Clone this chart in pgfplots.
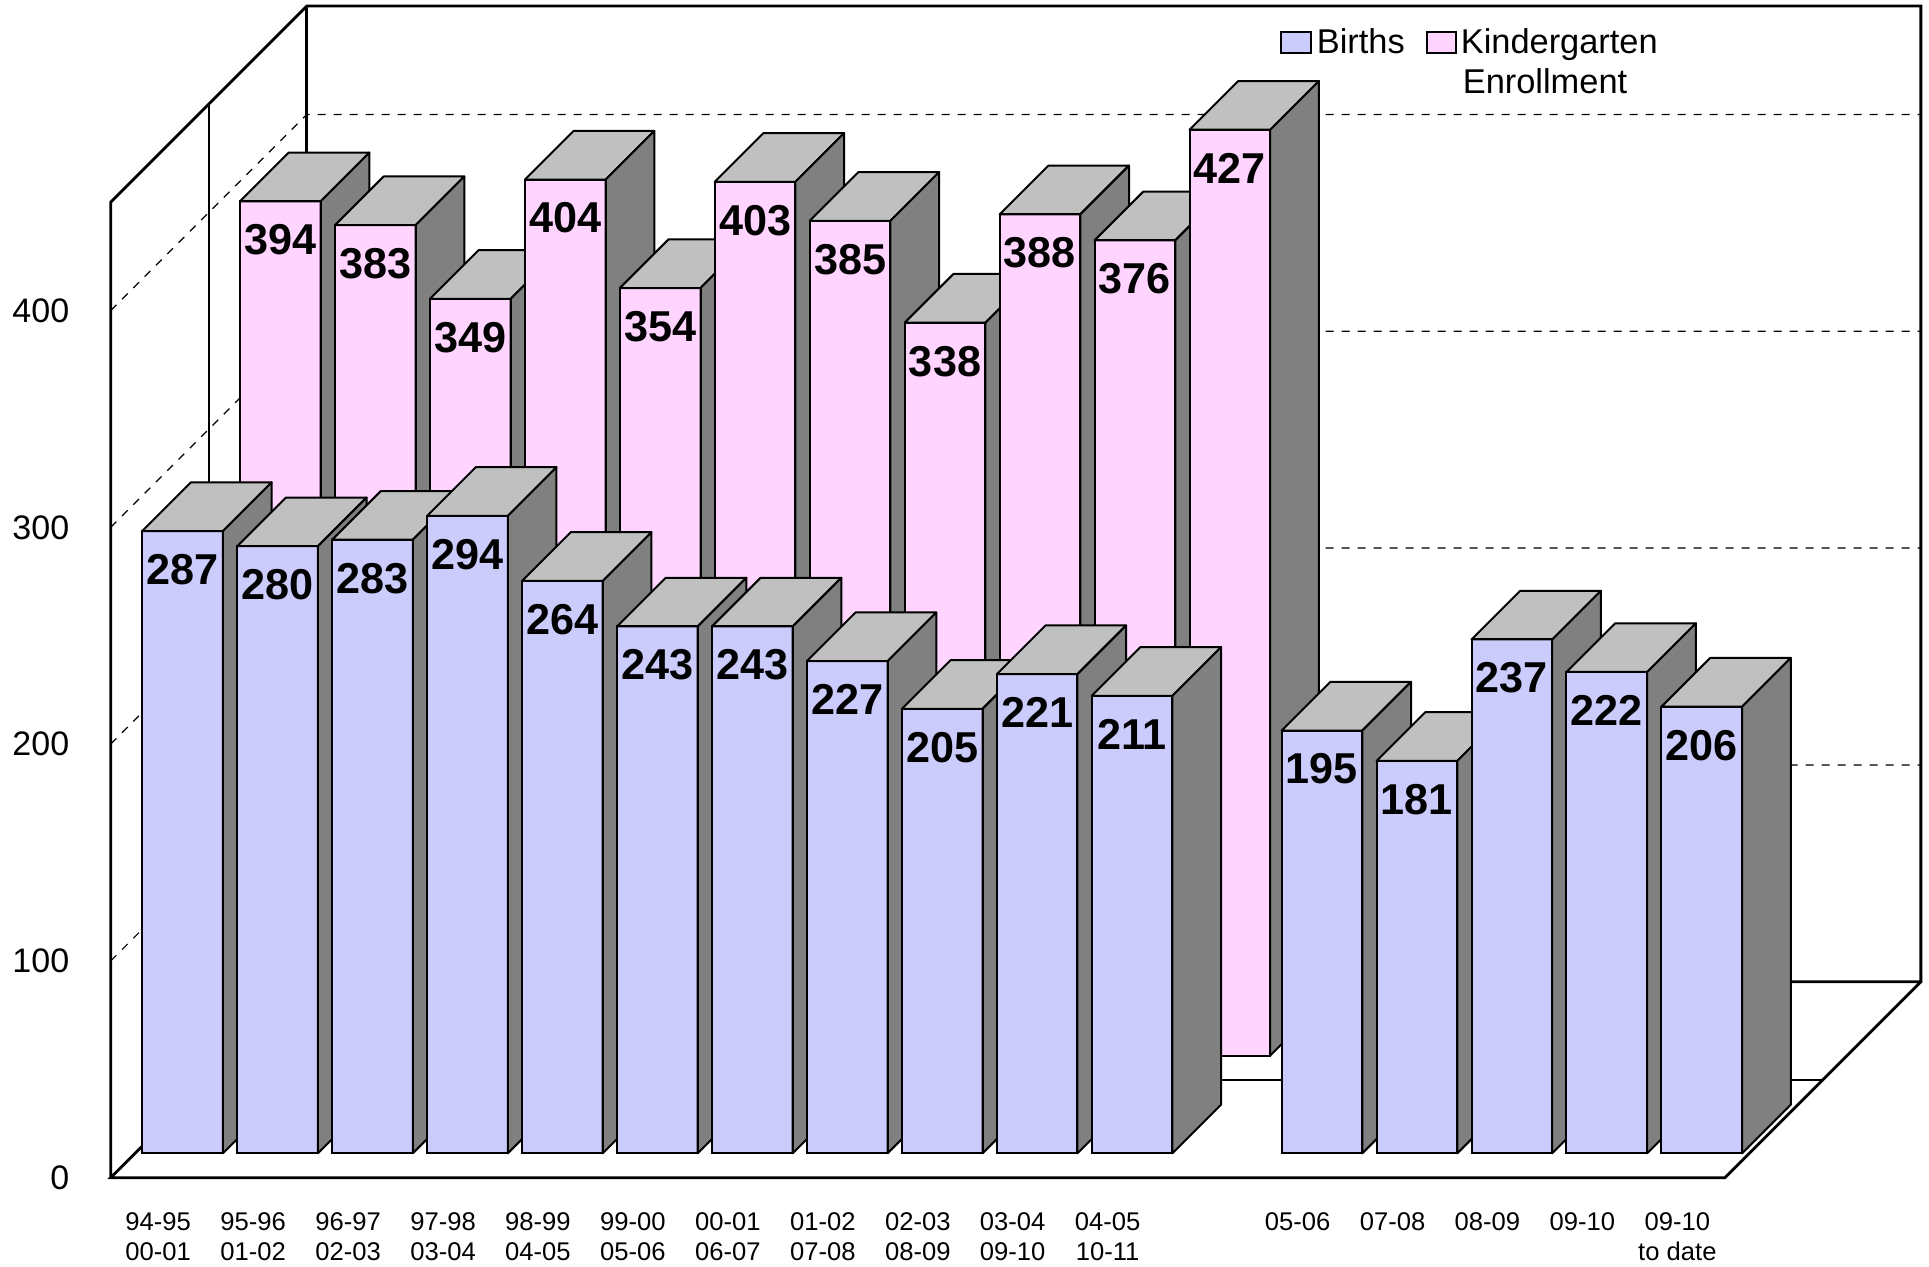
\documentclass[border=0pt]{standalone}
\usepackage{fontspec}
\setmainfont{Liberation Sans}
\usepackage{pgfplots}
\usepackage{pgfplotstable}
\pgfplotsset{compat=1.18}
\definecolor{birthfill}{RGB}{204,204,252}
\definecolor{kinderfill}{RGB}{255,212,255}
\definecolor{topgray}{RGB}{192,192,192}
\definecolor{sidegray}{RGB}{128,128,128}
\pgfdeclareplotmark{nomark}{}

\pgfplotstableread{
slot v
0 287
1 280
2 283
3 294
4 264
5 243
6 243
7 227
8 205
9 221
10 211
12 195
13 181
14 237
15 222
16 206
}\births

\pgfplotstableread{
slot v
0 394
1 383
2 349
3 404
4 354
5 403
6 385
7 338
8 388
9 376
10 427
}\kinder

\pgfplotsset{
  bar3d/.style n args={2}{
    scatter, only marks, mark=nomark,
    visualization depends on={rawy \as \val},
    scatter/@pre marker code/.code={%
      \pgfmathsetmacro\hgt{(\val-#2)*0.542}%
      \pgfmathtruncatemacro\lab{round(\val-#2)}%
      \fill[#1] (0pt,0pt) rectangle (20.175pt,-\hgt pt);
      \filldraw[line width=0.5pt, fill=topgray, line join=round] (0pt,0pt) -- (12.175pt,12.175pt) -- (32.35pt,12.175pt) -- (20.175pt,0pt) -- cycle;
      \filldraw[line width=0.5pt, fill=sidegray, line join=round] (20.175pt,0pt) -- (32.35pt,12.175pt) -- (32.35pt,{12.175pt-\hgt pt}) -- (20.175pt,-\hgt pt) -- cycle;
      \draw[line width=0.5pt] (0pt,0pt) rectangle (20.175pt,-\hgt pt);
      \node[font=\fontsize{10.8}{12}\selectfont\bfseries, inner sep=0pt] at (10.0875pt,-9.625pt) {\lab};
    },
    scatter/@post marker code/.code={},
  },
}

\begin{document}
\begin{tikzpicture}
\useasboundingbox (0pt,0pt) rectangle (482.25pt,316.5pt);
% walls and floor (pixel coordinates of the 1929x1266 frame)
\begin{scope}[x=0.25pt,y=-0.25pt,yshift=316.5pt]
  \draw[dash pattern=on 2pt off 2pt, line width=0.3pt]
    (110.7,960.9) -- (306.7,764.9) -- (1920.85,764.9)
    (110.7,744.1) -- (306.7,548.1) -- (1920.85,548.1)
    (110.7,527.3) -- (306.7,331.3) -- (1920.85,331.3)
    (110.7,310.5) -- (306.7,114.5) -- (1920.85,114.5);
  \draw[line width=0.7pt, line join=miter]
    (110.7,1177.7) -- (110.7,202.1) -- (306.7,6.1) -- (1920.85,6.1) -- (1920.85,981.7) -- (306.7,981.7) -- (110.7,1177.7) -- (1724.85,1177.7) -- (1920.85,981.7);
  \draw[line width=0.7pt] (306.7,981.7) -- (306.7,6.1);
  \draw[line width=0.5pt] (208.7,104.1) -- (208.7,1079.7) -- (1822.85,1079.7);
\end{scope}

\begin{axis}[
  at={(0pt,0pt)}, anchor=south west,
  scale only axis, width=482.25pt, height=316.5pt,
  xmin=-1.16588, xmax=19.15008,
  ymin=-40.7288, ymax=543.2196,
  hide axis, clip=false,
]
\addplot[bar3d={kinderfill}{56.3653}] table[x expr=\thisrow{slot}+1.36203, y expr=\thisrow{v}+56.3653] {\kinder};
\addplot[bar3d={birthfill}{11.2546}] table[x expr=\thisrow{slot}+0.33202, y expr=\thisrow{v}+11.2546] {\births};
\end{axis}

\begin{scope}[x=0.25pt,y=-0.25pt,yshift=316.5pt]
  % value axis labels
  \foreach \v in {0,100,200,300,400}
    \node[anchor=east, inner sep=0pt, font=\fontsize{8.5}{10}\selectfont] at (70,{1177.7-2.168*\v}) {\v};
  % category labels
  \foreach \a/\b [count=\i from 0] in {94-95/00-01,95-96/01-02,96-97/02-03,97-98/03-04,98-99/04-05,99-00/05-06,00-01/06-07,01-02/07-08,02-03/08-09,03-04/09-10,04-05/10-11}{
    \node[anchor=base, inner sep=0pt, font=\fontsize{6.4}{7.5}\selectfont] at ({158.175+94.95*\i},1230) {\a};
    \node[anchor=base, inner sep=0pt, font=\fontsize{6.4}{7.5}\selectfont] at ({158.175+94.95*\i},1260) {\b};
  }
  \foreach \a [count=\i from 12] in {05-06,07-08,08-09,09-10,09-10}{
    \node[anchor=base, inner sep=0pt, font=\fontsize{6.4}{7.5}\selectfont] at ({158.175+94.95*\i},1230) {\a};
  }
  \node[anchor=base, inner sep=0pt, font=\fontsize{6.4}{7.5}\selectfont] at ({158.175+94.95*16},1260) {to date};
  % legend
  \filldraw[fill=birthfill, line width=0.35pt] (1281,32) rectangle (1311,53);
  \filldraw[fill=kinderfill, line width=0.35pt] (1427,32) rectangle (1456,53);
  \node[anchor=base west, inner sep=0pt, font=\fontsize{8.6}{10}\selectfont] at (1316,54) {Births};
  \node[anchor=base west, inner sep=0pt, font=\fontsize{8.6}{10}\selectfont] at (1460,54) {Kindergarten};
  \node[anchor=base west, inner sep=0pt, font=\fontsize{8.6}{10}\selectfont] at (1462,93.5) {Enrollment};
\end{scope}
\end{tikzpicture}
\end{document}
